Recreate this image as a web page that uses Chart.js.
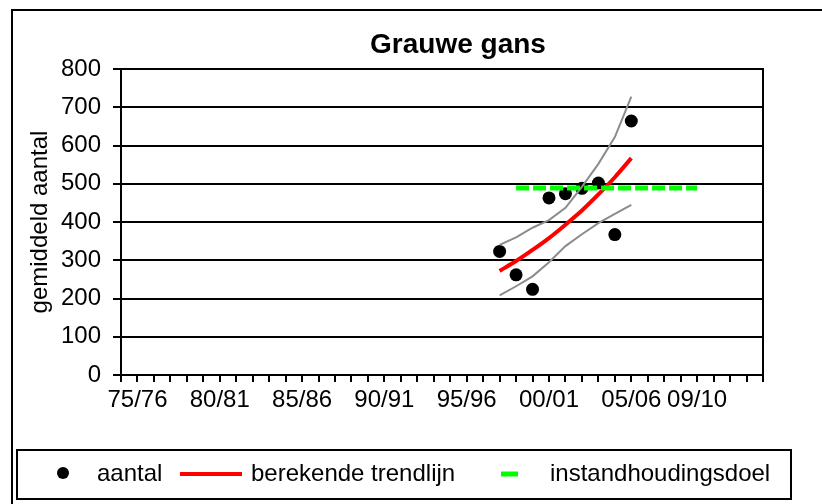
<!DOCTYPE html>
<html>
<head>
<meta charset="utf-8">
<script src="https://cdn.jsdelivr.net/npm/chart.js@4.4.1/dist/chart.umd.min.js"></script>
<style>
  html, body { margin: 0; padding: 0; background: #fff; overflow: hidden; }
  #wrap { position: absolute; left: 0; top: 0; width: 822px; height: 504px; }
</style>
</head>
<body>
<div id="wrap"><canvas id="chart" width="822" height="504"></canvas></div>
<script>
const seasons = ['74/75', '75/76', '76/77', '77/78', '78/79', '79/80', '80/81', '81/82', '82/83', '83/84',
    '84/85', '85/86', '86/87', '87/88', '88/89', '89/90', '90/91', '91/92', '92/93', '93/94',
    '94/95', '95/96', '96/97', '97/98', '98/99', '99/00', '00/01', '01/02', '02/03', '03/04',
    '04/05', '05/06', '06/07', '07/08', '08/09', '09/10', '10/11', '11/12', '12/13', '13/14'];
const shownLabels = ['75/76', '80/81', '85/86', '90/91', '95/96', '00/01', '05/06', '09/10'];

const countSeasons = ['97/98', '98/99', '99/00', '00/01', '01/02', '02/03', '03/04', '04/05', '05/06'];
const countValues = [323, 262, 224, 463, 474, 488, 502, 367, 664];
const trendValues = [272, 298, 327, 358, 393, 430, 472, 517, 567];
const upperValues = [340, 360, 385, 405, 437, 492, 552, 622, 728];
const lowerValues = [208, 232, 258, 295, 337, 368, 397, 421, 445];

const goalSeasons = ['98/99', '99/00', '00/01', '01/02', '02/03', '03/04', '04/05', '05/06', '06/07', '07/08', '08/09', '09/10'];
const goalValues = [489, 489, 489, 489, 489, 489, 489, 489, 489, 489, 489, 489];

const yTicks = [0, 100, 200, 300, 400, 500, 600, 700, 800];

const FONT = "'Liberation Sans', Arial, sans-serif";
const pairs = (xs, ys) => xs.map((x, i) => ({ x, y: ys[i] }));

// frame, title and boxed legend like the Excel original
const decorPlugin = {
    id: 'decor',
    afterDraw(chart) {
        const ctx = chart.ctx;
        const { left, right, top, bottom } = chart.chartArea;
        ctx.save();
        ctx.strokeStyle = '#000';
        ctx.lineWidth = 2;
        ctx.strokeRect(12, 10, 900, 530);
        ctx.beginPath();
        ctx.moveTo(left, top);
        ctx.lineTo(right, top);
        ctx.lineTo(right, bottom);
        ctx.stroke();

        ctx.fillStyle = '#000';
        ctx.textAlign = 'center';
        ctx.textBaseline = 'middle';
        ctx.font = `bold 28px ${FONT}`;
        ctx.fillText('Grauwe gans', 458, 45);

        // legend
        ctx.strokeRect(17, 450, 774, 49);
        const ly = 474;
        const ds = chart.data.datasets;
        ctx.font = `24px ${FONT}`;
        ctx.textAlign = 'left';

        ctx.beginPath();
        ctx.arc(63, ly - 1, 6, 0, Math.PI * 2);
        ctx.fillStyle = ds[0].pointBackgroundColor;
        ctx.fill();
        ctx.fillStyle = '#000';
        ctx.fillText(ds[0].label, 97, ly);

        ctx.beginPath();
        ctx.strokeStyle = ds[1].borderColor;
        ctx.lineWidth = 4;
        ctx.moveTo(180, ly);
        ctx.lineTo(242, ly);
        ctx.stroke();
        ctx.fillText(ds[1].label, 251, ly);

        ctx.beginPath();
        ctx.strokeStyle = ds[2].borderColor;
        ctx.lineWidth = 5;
        ctx.moveTo(501, ly);
        ctx.lineTo(518, ly);
        ctx.stroke();
        ctx.fillText(ds[2].label, 550, ly);
        ctx.restore();
    }
};

new Chart(document.getElementById('chart'), {
    type: 'line',
    data: {
        labels: seasons,
        datasets: [
            {
                label: 'aantal',
                data: pairs(countSeasons, countValues),
                showLine: false,
                pointRadius: 6.5,
                pointBackgroundColor: '#000',
                pointBorderColor: '#000',
                pointBorderWidth: 0,
                order: 5
            },
            {
                label: 'berekende trendlijn',
                data: pairs(countSeasons, trendValues),
                borderColor: '#ff0000',
                borderWidth: 4,
                pointRadius: 0,
                tension: 0.3,
                order: 1
            },
            {
                label: 'instandhoudingsdoel',
                data: pairs(goalSeasons, goalValues),
                borderColor: '#00ff00',
                borderWidth: 5,
                borderDash: [13, 4],
                pointRadius: 0,
                order: 0
            },
            {
                label: 'bovengrens',
                data: pairs(countSeasons, upperValues),
                borderColor: '#8c8c8c',
                borderWidth: 2,
                pointRadius: 0,
                order: 3
            },
            {
                label: 'ondergrens',
                data: pairs(countSeasons, lowerValues),
                borderColor: '#8c8c8c',
                borderWidth: 2,
                pointRadius: 0,
                order: 4
            }
        ]
    },
    options: {
        responsive: false,
        animation: false,
        layout: { padding: { left: 0, top: 69, right: 59, bottom: 69 } },
        plugins: {
            legend: { display: false },
            title: { display: false },
            tooltip: { enabled: false }
        },
        scales: {
            x: {
                offset: false,
                grid: { drawOnChartArea: false, drawTicks: true, tickLength: 7, color: '#000', lineWidth: 2 },
                border: { display: true, color: '#000', width: 2 },
                ticks: {
                    autoSkip: false,
                    maxRotation: 0,
                    padding: 4,
                    color: '#000',
                    font: { family: FONT, size: 24 },
                    callback(value) {
                        const lab = this.getLabelForValue(value);
                        return shownLabels.includes(lab) ? lab : '';
                    }
                },
                afterFit(scale) { scale.height = 60; }
            },
            y: {
                min: yTicks[0],
                max: yTicks[yTicks.length - 1],
                grid: { color: '#000', lineWidth: 2, tickLength: 8 },
                border: { display: true, color: '#000', width: 2 },
                afterBuildTicks(scale) { scale.ticks = yTicks.map(v => ({ value: v })); },
                ticks: {
                    padding: 12,
                    color: '#000',
                    font: { family: FONT, size: 24 }
                },
                title: {
                    display: true,
                    text: 'gemiddeld aantal',
                    color: '#000',
                    font: { family: FONT, size: 24 },
                    padding: { top: 26, bottom: 0 }
                },
                afterFit(scale) { scale.width = 121; }
            }
        }
    },
    plugins: [decorPlugin]
});
</script>
</body>
</html>
